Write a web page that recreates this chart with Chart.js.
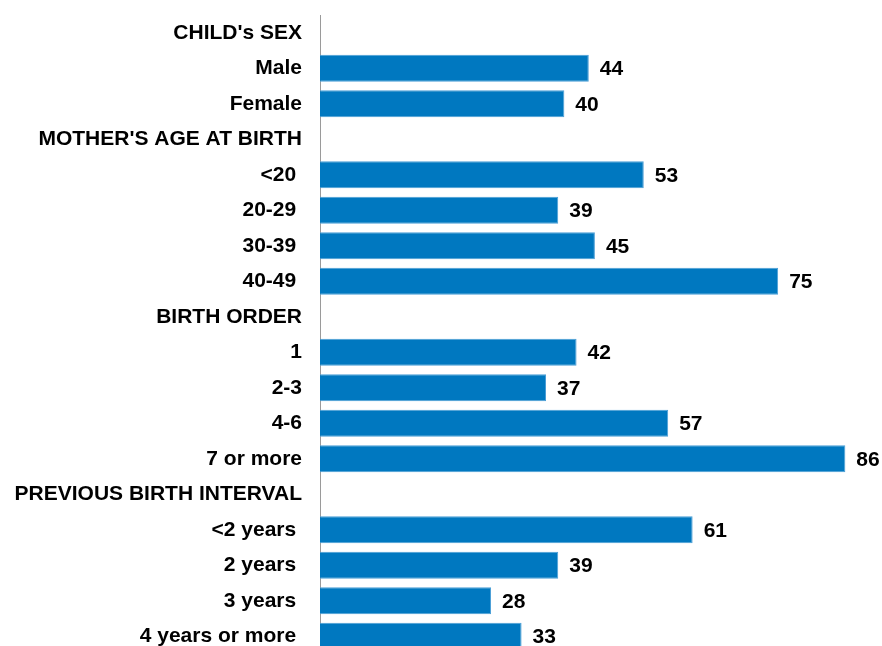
<!DOCTYPE html>
<html>
<head>
<meta charset="utf-8">
<script src="https://cdn.jsdelivr.net/npm/chart.js@4.4.0/dist/chart.umd.min.js"></script>
<style>
html,body{margin:0;padding:0;background:#fff;overflow:hidden;}
#wrap{position:relative;width:882px;height:654px;}
</style>
</head>
<body>
<div id="wrap"><canvas id="c"></canvas></div>
<script>
const categories = [
  "CHILD's SEX", "Male", "Female",
  "MOTHER'S AGE AT BIRTH", "<20 ", "20-29 ", "30-39 ", "40-49 ",
  "BIRTH ORDER", "1", "2-3", "4-6", "7 or more",
  "PREVIOUS BIRTH INTERVAL", "<2 years ", "2 years ", "3 years ", "4 years or more "
];
const values = [
  null, 44, 40,
  null, 53, 39, 45, 75,
  null, 42, 37, 57, 86,
  null, 61, 39, 28, 33
];

const FONT = "'Liberation Sans', Arial, sans-serif";

const valueLabels = {
  id: 'valueLabels',
  afterDatasetsDraw(chart) {
    const ctx = chart.ctx;
    const meta = chart.getDatasetMeta(0);
    ctx.save();
    ctx.font = "bold 21px " + FONT;
    ctx.fillStyle = '#000';
    ctx.textAlign = 'left';
    ctx.textBaseline = 'middle';
    meta.data.forEach((bar, i) => {
      const v = chart.data.datasets[0].data[i];
      if (v === null || v === undefined) return;
      ctx.fillText(String(v), bar.x + 11, bar.y + 1);
    });
    ctx.restore();
  }
};

new Chart(document.getElementById('c'), {
  type: 'bar',
  data: {
    labels: categories,
    datasets: [{
      data: values,
      backgroundColor: '#0078C0',
      borderColor: '#4A9ED6',
      borderWidth: 1,
      borderSkipped: 'left',
      barPercentage: 0.76,
      categoryPercentage: 1.0
    }]
  },
  options: {
    indexAxis: 'y',
    responsive: true,
    maintainAspectRatio: false,
    animation: false,
    layout: { padding: { top: 15, right: 0, bottom: 0, left: 0 } },
    plugins: { legend: { display: false }, tooltip: { enabled: false } },
    scales: {
      x: { display: false, min: 0, max: 92 },
      y: {
        afterFit(scale) { scale.width = 320; scale.paddingTop = 0; scale.paddingBottom = 0; },
        grid: { display: false, drawTicks: false },
        border: { display: true, color: '#9A9A9A', width: 1 },
        ticks: {
          color: '#000',
          padding: 18,
          font: { family: FONT, size: 21, weight: 'bold' },
          autoSkip: false
        }
      }
    }
  },
  plugins: [valueLabels]
});
</script>
</body>
</html>
